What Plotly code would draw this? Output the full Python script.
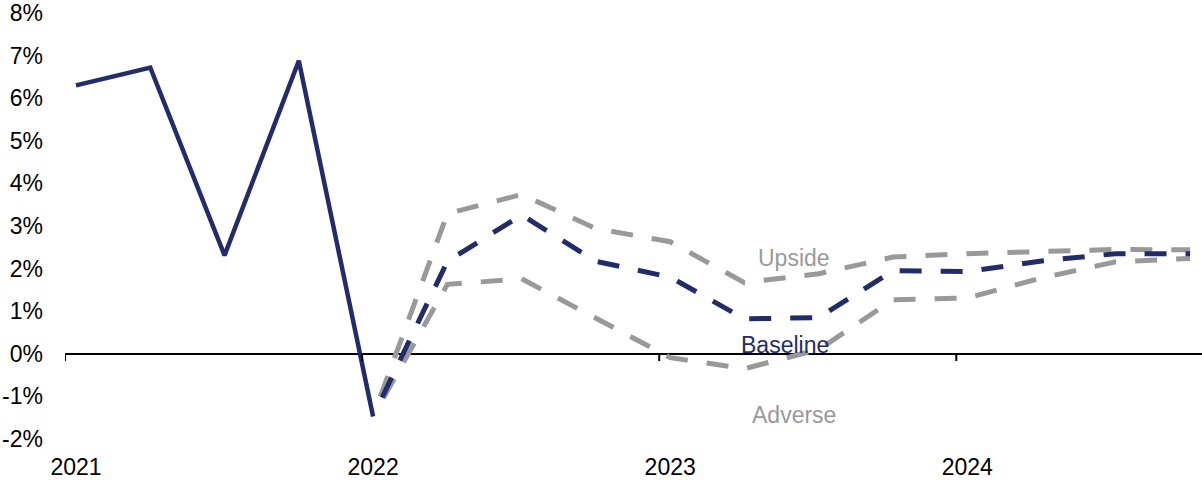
import plotly.graph_objects as go

# Quarterly periods, 2021 Q1 .. 2024 Q4
quarters = [f"{y} Q{q}" for y in (2021, 2022, 2023, 2024) for q in (1, 2, 3, 4)]
year_ticks = ["2021 Q1", "2022 Q1", "2023 Q1", "2024 Q1"]
year_labels = ["2021", "2022", "2023", "2024"]

# Actual growth (%), 2021 Q1 .. 2022 Q1
actual = [6.30, 6.72, 2.31, 6.88, -1.47]

# Scenario paths (%), 2022 Q1 .. 2024 Q4
upside = [-1.47, 3.29, 3.74, 2.94, 2.63, 1.67, 1.88, 2.27, 2.35, 2.39, 2.45, 2.44]
baseline = [-1.47, 2.17, 3.26, 2.17, 1.80, 0.82, 0.85, 1.95, 1.93, 2.18, 2.35, 2.35]
adverse = [-1.47, 1.63, 1.76, 0.85, -0.09, -0.35, 0.10, 1.27, 1.31, 1.78, 2.16, 2.24]

y_ticks = list(range(-2, 9))
y_labels = [f"{v}%" for v in y_ticks]

NAVY = "#232C6A"
GREY = "#999999"
FONT = "Liberation Sans, Arial, sans-serif"

# dashed pattern that opens with a short gap, then regular dashes
DASH = ",".join(["0px", "21px"] + ["22px", "19px"] * 40)

actual_x = quarters[: len(actual)]
scen_x = quarters[len(actual) - 1:]

fig = go.Figure()
fig.add_trace(go.Scatter(x=actual_x, y=actual, mode="lines",
                         line=dict(color=NAVY, width=4.5), name="Actual"))
fig.add_trace(go.Scatter(x=scen_x, y=upside, mode="lines",
                         line=dict(color=GREY, width=5, dash=DASH), name="Upside"))
fig.add_trace(go.Scatter(x=scen_x, y=adverse, mode="lines",
                         line=dict(color=GREY, width=5, dash=DASH), name="Adverse"))
fig.add_trace(go.Scatter(x=scen_x, y=baseline, mode="lines",
                         line=dict(color=NAVY, width=5, dash=DASH), name="Baseline"))

# small tick marks hanging below the zero line at each year boundary
tick_shift = 0.148
for t in year_ticks:
    i = quarters.index(t) - tick_shift
    fig.add_shape(type="line", xref="x", yref="y", x0=i, x1=i, y0=0, y1=-0.17,
                  line=dict(color="black", width=2))

# scenario labels
label_pos = {"Upside": (9.67, 2.24, GREY), "Baseline": (9.55, 0.2, NAVY),
             "Adverse": (9.67, -1.43, GREY)}
for txt, (xi, yv, col) in label_pos.items():
    fig.add_annotation(x=xi, y=yv, xref="x", yref="y", text=txt, showarrow=False,
                       font=dict(family=FONT, size=23, color=col),
                       xanchor="center", yanchor="middle")

fig.update_layout(
    width=1202, height=483,
    margin=dict(l=65, r=0, t=13, b=44),
    paper_bgcolor="white", plot_bgcolor="white",
    showlegend=False,
    font=dict(family=FONT, size=23, color="black"),
)
fig.update_xaxes(
    type="category", categoryorder="array", categoryarray=quarters,
    range=[-tick_shift, 15.16],
    tickvals=year_ticks, ticktext=year_labels,
    showgrid=False, showline=False, zeroline=False, ticks="",
    ticklabelstandoff=12,
)
fig.update_yaxes(
    range=[-2, 8], tickvals=y_ticks, ticktext=y_labels,
    showgrid=False, showline=False, ticks="",
    zeroline=True, zerolinecolor="black", zerolinewidth=2,
    ticklabelstandoff=21,
)

fig.write_html("out.html")
